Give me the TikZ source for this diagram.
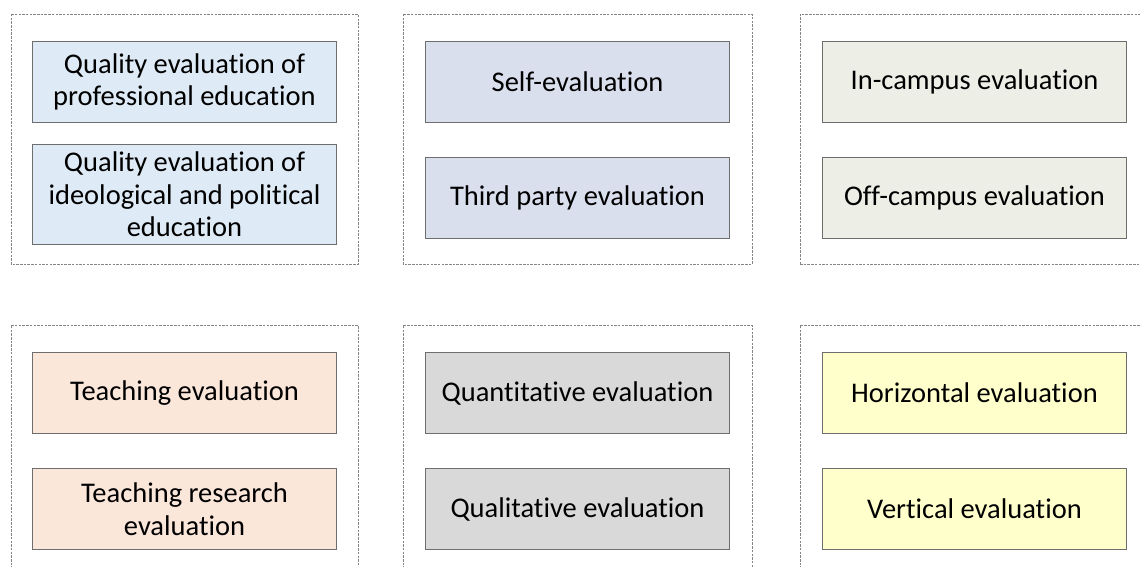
\documentclass[tikz,border=0pt]{standalone}
\usepackage{fontspec}
\setmainfont{Carlito}[Ligatures=CommonOff]
\definecolor{cA}{HTML}{DEEAF5}
\definecolor{cB}{HTML}{DADFEE}
\definecolor{cC}{HTML}{EDEFE6}
\definecolor{cD}{HTML}{FBE6DA}
\definecolor{cE}{HTML}{D9D9D9}
\definecolor{cF}{HTML}{FFFFCC}
\definecolor{frameg}{HTML}{858585}
\definecolor{boxg}{HTML}{6E6E6E}
\begin{document}
\begin{tikzpicture}[x=1pt,y=-1pt,
  frame/.style={draw=frameg,line width=0.9pt,dash pattern=on 2.5pt off 1.2pt},
  ebox/.style={draw=boxg,line width=1pt,minimum width=304pt,anchor=north west,inner sep=0pt,
    align=center,font=\fontsize{28.5}{32.5}\selectfont,text=black}]
\useasboundingbox (0,0) rectangle (1140,567);
% frames
\draw[frame] (11,14) rectangle (358,264);
\draw[frame] (403,14) rectangle (752,264);
\draw[frame] (800,264) -- (800,14) -- (1145,14);
\draw[frame] (800,264) -- (1145,264);
\draw[frame] (11,580) -- (11,325) -- (358,325) -- (358,580);
\draw[frame] (403,580) -- (403,325) -- (752,325) -- (752,580);
\draw[frame] (800,580) -- (800,325) -- (1145,325);
% boxes
\node[ebox,fill=cA,minimum height=81pt] (a1) at (32,41) {Quality evaluation of\\professional education};
\node[ebox,fill=cA,minimum height=100pt] (a2) at (32,144) {Quality evaluation of\\ideological and political\\education};
\node[ebox,fill=cB,minimum height=81pt] (b1) at (425,41) {Self-evaluation};
\node[ebox,fill=cB,minimum height=81pt] (b2) at (425,157) {Third party evaluation};
\node[ebox,fill=cC,minimum height=81pt] (c1) at (822,41) {In-campus evaluation};
\node[ebox,fill=cC,minimum height=81pt] (c2) at (822,157) {Off-campus evaluation};
\node[ebox,fill=cD,minimum height=81pt] (d1) at (32,352) {Teaching evaluation};
\node[ebox,fill=cD,minimum height=81pt] (d2) at (32,468) {Teaching research\\evaluation};
\node[ebox,fill=cE,minimum height=81pt] (e1) at (425,352) {Quantitative evaluation};
\node[ebox,fill=cE,minimum height=81pt] (e2) at (425,468) {Qualitative evaluation};
\node[ebox,fill=cF,minimum height=81pt] (f1) at (822,352) {Horizontal evaluation};
\node[ebox,fill=cF,minimum height=81pt] (f2) at (822,468) {Vertical evaluation};
\end{tikzpicture}
\end{document}
